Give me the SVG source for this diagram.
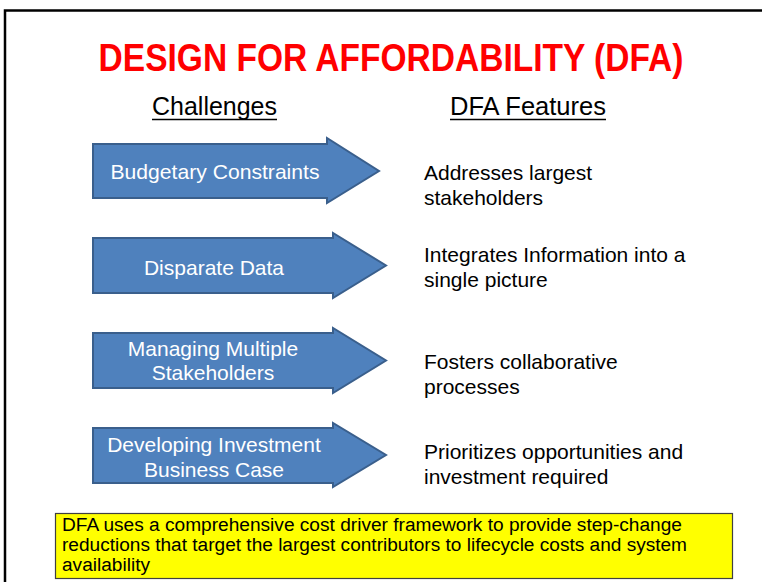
<svg xmlns="http://www.w3.org/2000/svg" width="762" height="582" viewBox="0 0 762 582">
<style>
.arrow{fill:#4F81BD;stroke:#3A5F8C;stroke-width:2;stroke-linejoin:miter}
.atext{font-family:"Liberation Sans",Arial,sans-serif;font-size:21px;fill:#FFFFFF;text-anchor:middle}
.ftext{font-family:"Liberation Sans",Arial,sans-serif;font-size:21px;fill:#000000}
.head{font-family:"Liberation Sans",Arial,sans-serif;font-size:25px;fill:#000000}
</style>
<rect width="762" height="582" fill="#FFFFFF"/>
<g id="frame"><path d="M5 582 V10.5 H762" fill="none" stroke="#000" stroke-width="2.5"/></g>
<g id="title" transform="translate(391,71) scale(0.86,1)"><text x="0" y="0" text-anchor="middle" font-family="Liberation Sans,Arial,sans-serif" font-size="39" font-weight="bold" fill="#FF0000">DESIGN FOR AFFORDABILITY (DFA)</text></g>
<g id="hdr-challenges"><text class="head" x="152" y="115" textLength="125" lengthAdjust="spacingAndGlyphs">Challenges</text><line x1="152" y1="119.5" x2="277" y2="119.5" stroke="#000" stroke-width="1.5"/></g>
<g id="hdr-features"><text class="head" x="450" y="115" textLength="156" lengthAdjust="spacingAndGlyphs">DFA Features</text><line x1="450" y1="119.5" x2="606" y2="119.5" stroke="#000" stroke-width="1.5"/></g>
<g id="arrow1"><path class="arrow" d="M93 144 H327 V138 L379 171 L327 203 V198 H93 Z"/><text class="atext" x="215" y="179" textLength="209" lengthAdjust="spacingAndGlyphs">Budgetary Constraints</text></g>
<g id="arrow2"><path class="arrow" d="M93 238 H333 V233 L386 265.5 L333 298 V293 H93 Z"/><text class="atext" x="214" y="275">Disparate Data</text></g>
<g id="arrow3"><path class="arrow" d="M93 333 H333 V328 L386 360.5 L333 393 V388 H93 Z"/><text class="atext" x="213" y="356">Managing Multiple</text><text class="atext" x="213" y="380">Stakeholders</text></g>
<g id="arrow4"><path class="arrow" d="M93 428 H333 V423 L386 455 L333 487 V483 H93 Z"/><text class="atext" x="214" y="452">Developing Investment</text><text class="atext" x="214" y="477">Business Case</text></g>
<g id="feature1"><text class="ftext" x="424" y="180">Addresses largest</text><text class="ftext" x="424" y="205">stakeholders</text></g>
<g id="feature2"><text class="ftext" x="424" y="262">Integrates Information into a</text><text class="ftext" x="424" y="287">single picture</text></g>
<g id="feature3"><text class="ftext" x="424" y="369">Fosters collaborative</text><text class="ftext" x="424" y="394">processes</text></g>
<g id="feature4"><text class="ftext" x="424" y="459">Prioritizes opportunities and</text><text class="ftext" x="424" y="484">investment required</text></g>
<g id="summary"><rect x="55.5" y="513.5" width="677" height="65" fill="#FFFF00" stroke="#404040" stroke-width="1.2"/>
<text font-family="Liberation Sans,Arial,sans-serif" font-size="18" fill="#000">
<tspan x="62" y="531" textLength="620" lengthAdjust="spacingAndGlyphs">DFA uses a comprehensive cost driver framework to provide step-change</tspan>
<tspan x="62" y="551" textLength="625" lengthAdjust="spacingAndGlyphs">reductions that target the largest contributors to lifecycle costs and system</tspan>
<tspan x="62" y="571" textLength="88" lengthAdjust="spacingAndGlyphs">availability</tspan></text></g>
</svg>
